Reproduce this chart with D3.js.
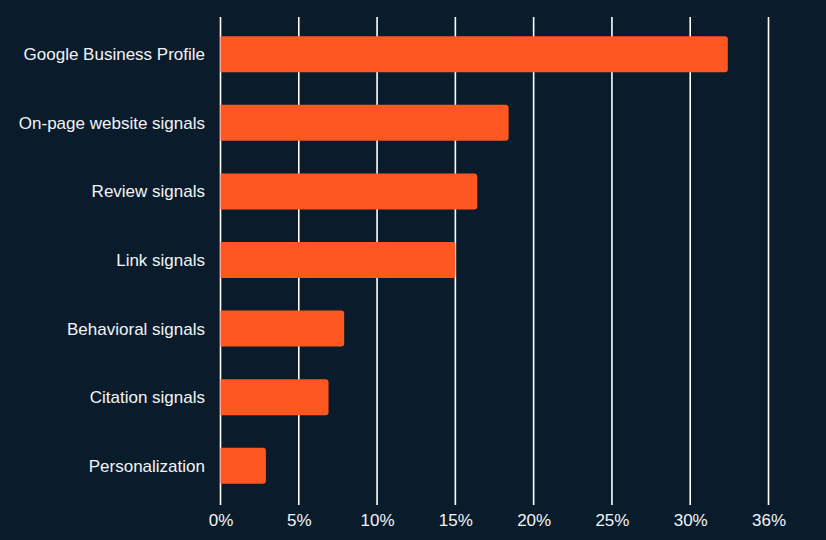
<!DOCTYPE html>
<html>
<head>
<meta charset="utf-8">
<script src="https://cdn.jsdelivr.net/npm/d3@7"></script>
<style>
  html, body { margin: 0; padding: 0; background: #0a1c2c; }
  svg { display: block; font-family: "Liberation Sans", Arial, sans-serif; }
</style>
</head>
<body>
<div id="chart"></div>
<script>
// data
var categories = ["Google Business Profile", "On-page website signals", "Review signals",
  "Link signals", "Behavioral signals", "Citation signals", "Personalization"];
var values = [32.4, 18.4, 16.4, 15.0, 7.9, 6.9, 2.9];
var tickValues = [0, 5, 10, 15, 20, 25, 30, 35];
var tickLabels = ["0%", "5%", "10%", "15%", "20%", "25%", "30%", "36%"];

var width = 826, height = 540;
var bg = "#0a1c2c", barColor = "#ff5722", textColor = "#f2f4f6";

var svg = d3.select("#chart").append("svg")
  .attr("width", width).attr("height", height);
svg.append("rect").attr("width", width).attr("height", height).attr("fill", bg);

var x = d3.scaleLinear().domain([0, 35]).range([220.5, 768.5]);
var y = d3.scaleBand().domain(categories).range([20, 500]).paddingInner(0.475).paddingOuter(0.2375);

// vertical grid lines
svg.append("g").selectAll("line").data(tickValues).enter().append("line")
  .attr("x1", function(d) { return x(d); })
  .attr("x2", function(d) { return x(d); })
  .attr("y1", 17).attr("y2", 505)
  .attr("stroke", "#ffffff").attr("stroke-width", 1.6);

// bars, rounded only on the right end
var r = 3;
svg.append("g").selectAll("path").data(values).enter().append("path")
  .attr("fill", barColor)
  .attr("d", function(d, i) {
    var x0 = x(0), x1 = x(d), y0 = y(categories[i]), h = y.bandwidth();
    return "M" + x0 + "," + y0 + "H" + (x1 - r) + "Q" + x1 + "," + y0 + " " + x1 + "," + (y0 + r)
      + "V" + (y0 + h - r) + "Q" + x1 + "," + (y0 + h) + " " + (x1 - r) + "," + (y0 + h)
      + "H" + x0 + "Z";
  });

// category labels
svg.append("g").selectAll("text").data(categories).enter().append("text")
  .attr("x", 205)
  .attr("y", function(d) { return y(d) + y.bandwidth() / 2; })
  .attr("dy", "0.35em")
  .attr("text-anchor", "end")
  .attr("fill", textColor)
  .attr("font-size", 17)
  .text(function(d) { return d; });

// x axis labels
var axis = d3.axisBottom(x).tickValues(tickValues).tickSize(0).tickPadding(0)
  .tickFormat(function(d, i) { return tickLabels[i]; });
var gx = svg.append("g").attr("transform", "translate(0,514)").call(axis);
gx.select(".domain").remove();
gx.selectAll("text").attr("fill", textColor).attr("font-size", 17)
  .attr("font-family", "Liberation Sans, Arial, sans-serif");
</script>
</body>
</html>
